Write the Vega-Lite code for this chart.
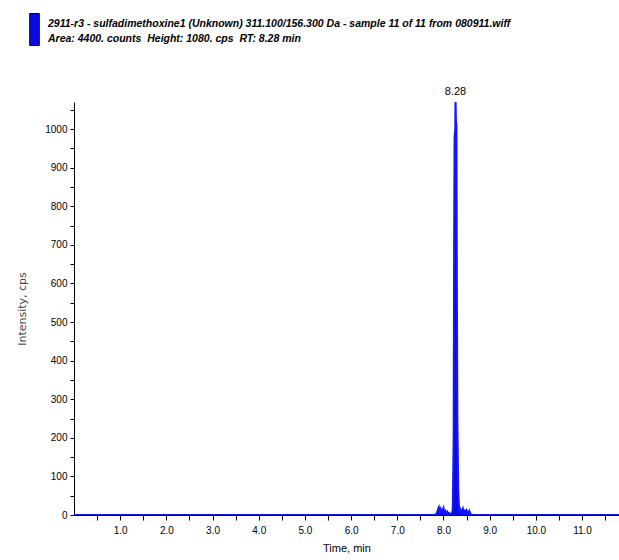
{
  "$schema": "https://vega.github.io/schema/vega-lite/v6.json",
  "width": 545,
  "height": 413,
  "autosize": "none",
  "padding": {"left": 74, "top": 102, "right": 0, "bottom": 45},
  "background": "white",
  "view": {"stroke": null},
  "title": {
    "text": "2911-r3 - sulfadimethoxine1 (Unknown) 311.100/156.300 Da - sample 11 of 11 from 080911.wiff",
    "subtitle": "\u00a0\u00a0Area: 4400. counts\u00a0\u00a0Height: 1080. cps\u00a0\u00a0RT: 8.28 min",
    "anchor": "start",
    "frame": "group",
    "dx": -26,
    "offset": -31,
    "font": "Liberation Sans, sans-serif",
    "fontSize": 10.5,
    "fontStyle": "italic",
    "fontWeight": "bold",
    "color": "#000000",
    "subtitleFont": "Liberation Sans, sans-serif",
    "subtitleFontSize": 10.5,
    "subtitleFontStyle": "italic",
    "subtitleFontWeight": "bold",
    "subtitleColor": "#000000",
    "subtitlePadding": 4
  },
  "data": {
    "values": [
      {"time": 0.0, "intensity": 0},
      {"time": 7.80, "intensity": 0},
      {"time": 7.85, "intensity": 3},
      {"time": 7.88, "intensity": 14},
      {"time": 7.90, "intensity": 20},
      {"time": 7.92, "intensity": 8},
      {"time": 7.94, "intensity": 15},
      {"time": 7.96, "intensity": 4},
      {"time": 7.98, "intensity": 12},
      {"time": 8.00, "intensity": 18},
      {"time": 8.02, "intensity": 6},
      {"time": 8.04, "intensity": 10},
      {"time": 8.06, "intensity": 3},
      {"time": 8.08, "intensity": 8},
      {"time": 8.10, "intensity": 2},
      {"time": 8.12, "intensity": 5},
      {"time": 8.14, "intensity": 1},
      {"time": 8.16, "intensity": 3},
      {"time": 8.18, "intensity": 4},
      {"time": 8.20, "intensity": 12},
      {"time": 8.22, "intensity": 200},
      {"time": 8.23, "intensity": 700},
      {"time": 8.24, "intensity": 980},
      {"time": 8.255, "intensity": 1000},
      {"time": 8.26, "intensity": 1080, "label": "8.28"},
      {"time": 8.27, "intensity": 1020},
      {"time": 8.28, "intensity": 1010},
      {"time": 8.29, "intensity": 600},
      {"time": 8.30, "intensity": 250},
      {"time": 8.32, "intensity": 60},
      {"time": 8.34, "intensity": 8},
      {"time": 8.36, "intensity": 14},
      {"time": 8.38, "intensity": 4},
      {"time": 8.40, "intensity": 12},
      {"time": 8.42, "intensity": 17},
      {"time": 8.44, "intensity": 6},
      {"time": 8.46, "intensity": 10},
      {"time": 8.48, "intensity": 3},
      {"time": 8.50, "intensity": 12},
      {"time": 8.52, "intensity": 8},
      {"time": 8.54, "intensity": 2},
      {"time": 8.56, "intensity": 10},
      {"time": 8.58, "intensity": 4},
      {"time": 8.60, "intensity": 1},
      {"time": 8.64, "intensity": 0},
      {"time": 11.8, "intensity": 0}
    ]
  },
  "encoding": {
    "x": {
      "field": "time",
      "type": "quantitative",
      "scale": {"domain": [0, 11.8], "nice": false, "zero": false},
      "axis": {
        "title": "Time, min",
        "values": [0.5, 1, 1.5, 2, 2.5, 3, 3.5, 4, 4.5, 5, 5.5, 6, 6.5, 7, 7.5, 8, 8.5, 9, 9.5, 10, 10.5, 11, 11.5],
        "labelExpr": "datum.value % 1 == 0 ? format(datum.value, '.1f') : ''",
        "grid": false,
        "domainColor": "#000000",
        "tickColor": "#000000",
        "tickSize": 5,
        "labelFont": "Liberation Sans, sans-serif",
        "labelFontSize": 10,
        "labelColor": "#000000",
        "labelPadding": 5,
        "titleFont": "Liberation Sans, sans-serif",
        "titleFontSize": 11,
        "titleFontWeight": "normal",
        "titleColor": "#000000",
        "titlePadding": 7
      }
    },
    "y": {
      "field": "intensity",
      "type": "quantitative",
      "scale": {"domain": [0, 1070], "nice": false},
      "axis": {
        "title": "Intensity, cps",
        "values": [0, 50, 100, 150, 200, 250, 300, 350, 400, 450, 500, 550, 600, 650, 700, 750, 800, 850, 900, 950, 1000, 1050],
        "labelExpr": "datum.value % 100 == 0 ? format(datum.value, 'd') : ''",
        "grid": false,
        "domainColor": "#000000",
        "tickColor": "#000000",
        "tickSize": 4,
        "labelFont": "Liberation Sans, sans-serif",
        "labelFontSize": 10,
        "labelColor": "#000000",
        "labelPadding": 3,
        "titleFont": "DejaVu Sans, sans-serif",
        "titleFontSize": 11,
        "titleFontWeight": "normal",
        "titleColor": "#444444",
        "titlePadding": 17
      }
    }
  },
  "layer": [
    {
      "mark": {"type": "area", "opacity": 1, "clip": true},
      "encoding": {
        "color": {
          "datum": "sulfadimethoxine1",
          "type": "nominal",
          "scale": {"range": ["#0a0ae6"]},
          "legend": {
            "orient": "none",
            "legendX": -56,
            "legendY": -89,
            "title": null,
            "padding": 0,
            "symbolType": "M-0.3,-1H0.3V1H-0.3Z",
            "symbolSize": 1024,
            "symbolStrokeColor": "#000050",
            "symbolStrokeWidth": 1,
            "symbolOpacity": 1,
            "labelExpr": "''",
            "labelFontSize": 1
          }
        }
      }
    },
    {
      "mark": {"type": "line", "color": "#1515ff", "strokeWidth": 2, "clip": true}
    },
    {
      "transform": [{"filter": "datum.label"}],
      "mark": {"type": "text", "dy": -6, "font": "Liberation Sans, sans-serif", "fontSize": 11, "color": "#000000"},
      "encoding": {"text": {"field": "label"}}
    }
  ]
}
